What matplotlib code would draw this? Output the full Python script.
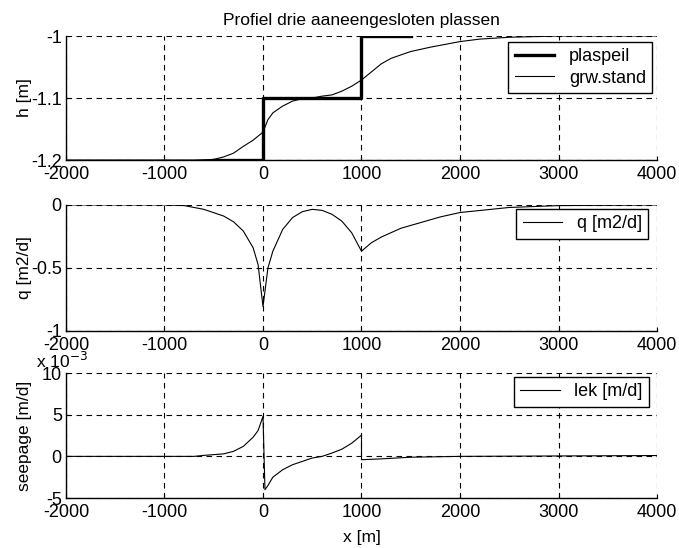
"""
Profiel drie aaneengesloten plassen: stijghoogte, debiet en kwel
"""

import numpy as np
import matplotlib
matplotlib.use('Agg')
import matplotlib.pyplot as plt

plt.rcParams['font.family'] = ['Liberation Sans', 'DejaVu Sans']
plt.rcParams['axes.unicode_minus'] = False

# plaspeil (lake levels, step profile)
x_plas = [-500, 0, 0, 1000, 1000, 1500]
h_plas = [-1.2, -1.2, -1.1, -1.1, -1.0, -1.0]

# grondwaterstand
x_grw = [-2000, -1000, -700, -500, -400, -300, -200, -100, 0, 50, 100, 200, 300,
         400, 500, 600, 700, 800, 900, 1000, 1100, 1200, 1300, 1500, 1700,
         2000, 2200, 2500, 3000, 4000]
h_grw = [-1.2, -1.2, -1.2, -1.199, -1.195, -1.189, -1.178, -1.168, -1.155, -1.135,
         -1.124, -1.113, -1.105, -1.101, -1.1, -1.097, -1.095, -1.089, -1.081,
         -1.071, -1.058, -1.045, -1.036, -1.025, -1.018, -1.009, -1.005, -1.002,
         -1.0, -1.0]

# debiet q [m2/d]
x_q = [-2000, -1000, -800, -600, -400, -300, -200, -100, -50, 0, 50, 100, 200,
       300, 400, 500, 600, 700, 800, 900, 1000, 1100, 1200, 1400, 1600, 1800,
       2000, 2500, 3000, 4000]
q = [0.0, 0.0, -0.005, -0.035, -0.088, -0.133, -0.207, -0.34, -0.473, -0.806,
     -0.5, -0.367, -0.194, -0.1, -0.053, -0.035, -0.043, -0.074, -0.128, -0.22,
     -0.367, -0.3, -0.255, -0.185, -0.14, -0.095, -0.06, -0.02, -0.005, 0.0]

# lek / seepage [1e-3 m/d]
x_lek = [-2000, -700, -600, -400, -300, -200, -100, -50, 0, 20, 50, 100, 200,
         300, 400, 500, 600, 700, 800, 900, 1000, 1000, 1200, 1500, 2000, 4000]
lek = [0.0, 0.0, 0.12, 0.3, 0.6, 1.2, 2.3, 3.1, 4.8, -4.0, -3.5, -2.5, -1.6,
       -1.0, -0.6, -0.2, 0.0, 0.4, 0.86, 1.57, 2.55, -0.4, -0.3, -0.1, 0.0, 0.1]

xticks = [-2000, -1000, 0, 1000, 2000, 3000, 4000]

FS = 12.5      # labels, title
FS_TICK = 13   # tick labels
FS_LEG = 13    # legend
fig = plt.figure(figsize=(6.79, 5.48), dpi=100)

left, width = 0.0972, 0.8704
ax1 = fig.add_axes([left, 0.708, width, 0.2263])
ax2 = fig.add_axes([left, 0.396, width, 0.230])
ax3 = fig.add_axes([left, 0.0912, width, 0.228])


def style_axis(ax, ylim, yticks):
    ax.set_xlim(-2000, 4000)
    ax.set_ylim(*ylim)
    ax.set_xticks(xticks)
    ax.set_yticks(yticks)
    ax.grid(True, color='black', linestyle=(0, (5, 4)), linewidth=0.8)
    ax.spines['top'].set_visible(False)
    ax.spines['right'].set_visible(False)
    for s in ('left', 'bottom'):
        ax.spines[s].set_linewidth(1.0)
    ax.tick_params(direction='in', length=3, labelsize=FS_TICK)
    ax.tick_params(axis='x', pad=4.5)
    ax.tick_params(axis='y', pad=3)
    ax.yaxis.set_label_coords(-0.058, 0.5)


def add_legend(ax, anchor):
    ax.legend(loc='upper right', bbox_to_anchor=anchor, borderaxespad=0,
              fancybox=False, edgecolor='black', framealpha=1,
              fontsize=FS_LEG, handlelength=2.2, borderpad=0.35,
              labelspacing=0.25)


# top: water levels
ax1.plot(x_plas, h_plas, color='black', linewidth=2.4, label='plaspeil')
ax1.plot(x_grw, h_grw, color='black', linewidth=0.8, label='grw.stand')
style_axis(ax1, (-1.2, -1.0), [-1.2, -1.1, -1.0])
ax1.set_yticklabels(['-1.2', '-1.1', '-1'])
ax1.set_ylabel('h [m]', fontsize=FS)
ax1.set_title('Profiel drie aaneengesloten plassen', fontsize=FS, pad=8)
add_legend(ax1, (0.992, 0.952))

# middle: discharge
ax2.plot(x_q, q, color='black', linewidth=0.8, label='q [m2/d]')
style_axis(ax2, (-1, 0), [-1, -0.5, 0])
ax2.set_yticklabels(['-1', '-0.5', '0'])
ax2.set_ylabel('q [m2/d]', fontsize=FS)
add_legend(ax2, (0.985, 0.968))

# bottom: seepage
ax3.plot(x_lek, lek, color='black', linewidth=0.8, label='lek [m/d]')
style_axis(ax3, (-5, 10), [-5, 0, 5, 10])
ax3.set_ylabel('seepage [m/d]', fontsize=FS)
ax3.set_xlabel('x [m]', fontsize=FS, labelpad=6)
ax3.text(-0.05, 1.02, r'x 10$^{-3}$', transform=ax3.transAxes, fontsize=FS,
         ha='left', va='bottom')
add_legend(ax3, (0.986, 0.968))

fig.savefig('out.png', dpi=100)
